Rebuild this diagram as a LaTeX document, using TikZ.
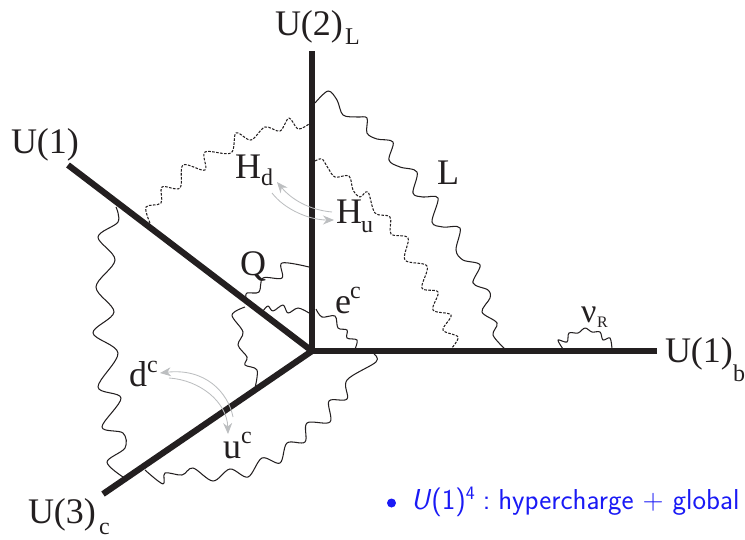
\documentclass[tikz,border=0pt]{standalone}
\usepackage{fontspec}
\setmainfont{Liberation Serif}
\usetikzlibrary{arrows.meta}
\definecolor{ink}{HTML}{231F20}
\definecolor{soft}{HTML}{BCBEC0}
\definecolor{bluetext}{HTML}{1A1AF5}
\tikzset{
  brane/.style={line width=6.2pt,color=ink,line cap=butt},
  wiggle/.style={line width=1.05pt,color=ink,line join=round},
  wigd/.style={wiggle,dash pattern=on 2.6pt off 1.4pt},
  swap/.style={line width=0.85pt,color=soft,-{Stealth[length=11pt,width=9pt]}},
  lab/.style={anchor=base west,inner sep=0pt,outer sep=0pt,text=ink,font=\fontsize{36}{36}\selectfont},
  sublab/.style={anchor=base west,inner sep=0pt,outer sep=0pt,text=ink,font=\fontsize{24}{24}\selectfont},
  note/.style={anchor=base west,inner sep=0pt,outer sep=0pt,text=bluetext,font=\fontsize{28.8}{28.8}\sffamily\selectfont}
}
\begin{document}
\begin{tikzpicture}[x=1pt,y=-1pt]
\useasboundingbox (0,0) rectangle (745,539);
\coordinate (O) at (312,351);
\coordinate (top) at (312,51);
\coordinate (ul) at (68,165);
\coordinate (dl) at (103,494);
\coordinate (rt) at (657,351);
\draw[brane] (top) -- (O);
\draw[brane] (ul) -- (O);
\draw[brane] (dl) -- (O);
\draw[brane] (rt) -- (O);
\fill[ink] (309,348) rectangle (315,354);
% L
\draw[wiggle] plot[smooth,tension=.55] coordinates {(315,103) (328,91) (337,100) (343,115) (357,117) (367,118) (367,133) (377,139) (393,142) (389,160) (400,167) (417,172) (413,193) (423,197) (438,198) (432,222) (443,227) (460,228) (456,250) (463,260) (480,265) (473,283) (488,290) (490,298) (482,312) (497,323) (493,335) (505,349)};
% Hu
\draw[wigd] plot[smooth,tension=.55] coordinates {(315,161) (322,159) (328,168) (335,177) (349,176) (353,190) (360,197) (368,192) (375,213) (390,217) (391,234) (408,238) (405,260) (427,266) (422,288) (438,292) (433,310) (451,315) (443,330) (458,337) (451,349)};
% Hd
\draw[wigd] plot[smooth,tension=.55] coordinates {(150,223) (146,207) (161,203) (162,187) (180,188) (183,165) (205,170) (205,152) (231,153) (236,133) (251,140) (265,127) (280,131) (289,118) (298,129) (309,124)};
% Q
\draw[wiggle] plot[smooth,tension=.55] coordinates {(309,267) (282,263) (282,278) (263,278) (259,292) (247,293) (246,298)};
\draw[wiggle] plot[smooth,tension=.55] coordinates {(245,307) (232,315) (243,332) (238,345) (247,357) (245,365) (257,370) (255,388)};
% ec
\draw[wiggle] plot[smooth,tension=.55] coordinates {(263,311) (268,306) (273,311) (283,305) (288,313) (298,308) (309,313)};
\draw[wiggle] plot[smooth,tension=.55] coordinates {(316,309) (322,317) (335,316) (338,328) (347,330) (347,338) (357,340) (355,349)};
% left
\draw[wiggle] plot[smooth,tension=.55] coordinates {(116,207) (118,222) (98,237) (115,260) (96,287) (114,312) (93,333) (118,353) (98,387) (121,398) (102,427) (123,433) (125,448) (107,462) (123,477)};
% bottom
\draw[wiggle] plot[smooth,tension=.55] coordinates {(145,470) (163,484) (165,473) (182,475) (193,468) (213,481) (230,469) (248,477) (262,458) (280,463) (287,443) (305,442) (307,423) (330,422) (329,401) (347,399) (347,380) (376,362) (374,354)};
% nu
\draw[wiggle] plot[smooth,tension=.55] coordinates {(563,349) (558,340) (567,342) (569,333) (578,333) (585,328) (592,332) (600,332) (603,340) (610,338) (612,349)};
% labels
\node[lab] (u2) at (275,35) {U(2)};
\node[sublab] (u2s) at (345,44) {L};
\node[lab] (u1) at (11,153) {U(1)};
\node[lab] (u3) at (28,523) {U(3)};
\node[sublab] (u3s) at (99,534) {c};
\node[lab] (u1b) at (665,362) {U(1)};
\node[sublab] (u1bs) at (733,381) {b};
\node[lab] (hd) at (235,178) {H};
\node[sublab] (hds) at (261,185) {d};
\node[lab] (hu) at (336,223) {H};
\node[sublab] (hus) at (361,232) {u};
\node[lab] (l) at (437,184) {L};
\node[lab] (q) at (240,275) {Q};
\node[lab] (ec) at (335,313) {e};
\node[sublab] (ecs) at (350,298) {c};
\node[lab] (dc) at (129,386) {d};
\node[sublab] (dcs) at (147,372) {c};
\node[lab] (uc) at (223,458) {u};
\node[sublab] (ucs) at (241,443) {c};
\node[lab,font=\fontsize{34}{34}\selectfont] (nu) at (581,322) {ν};
\node[sublab,font=\fontsize{16}{16}\selectfont] (nus) at (597,327) {R};
% swap arrows
\coordinate (a1) at (332,212);
\coordinate (a2) at (277,182);
\coordinate (b1) at (272,193);
\coordinate (b2) at (334,220);
\coordinate (c1) at (233,417);
\coordinate (c2) at (160,373);
\coordinate (d1) at (169,378);
\coordinate (d2) at (228,434);
\draw[swap] (a1) .. controls (310,210) and (292,200) .. (a2);
\draw[swap] (b1) .. controls (285,210) and (310,220) .. (b2);
\draw[swap] (c1) .. controls (228,392) and (205,368) .. (c2);
\draw[swap] (d1) .. controls (200,380) and (227,402) .. (d2);
% note
\fill[bluetext] (391.5,503) circle (4.5pt);
\node[note] (n) at (411,509) {\textit{U}(1)\raisebox{10pt}{\fontsize{19}{19}\selectfont 4}\hspace{8pt}:\hspace{8pt}hypercharge\hspace{9pt}+\hspace{9pt}global};
\end{tikzpicture}
\end{document}
